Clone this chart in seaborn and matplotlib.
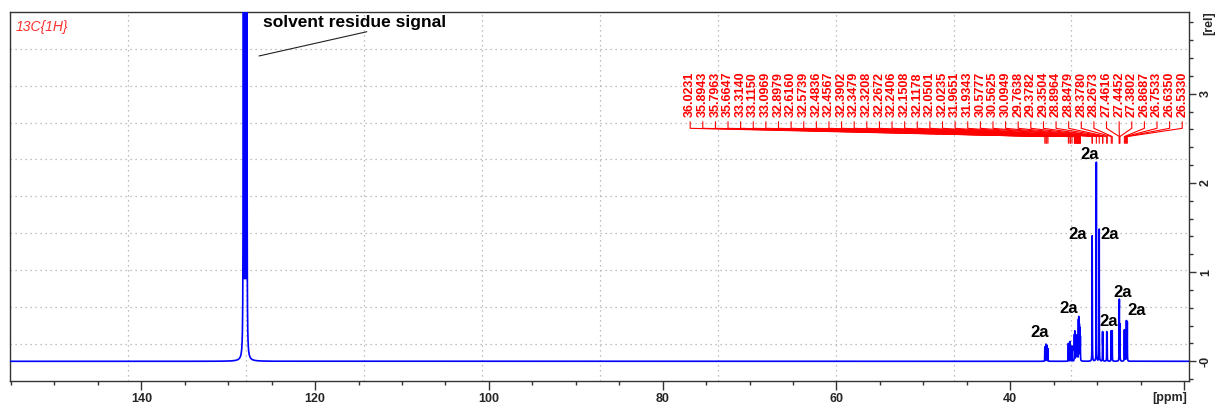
import numpy as np
import matplotlib
matplotlib.use("Agg")
import matplotlib.pyplot as plt
import seaborn as sns

# --- peak list (ppm) and line heights (rel) ---
peak_ppm = [36.0231, 35.8943, 35.7963, 35.6647, 33.3140, 33.1150, 33.0969, 32.8979,
            32.6160, 32.5739, 32.4836, 32.4567, 32.3902, 32.3479, 32.3208, 32.2672,
            32.2406, 32.1508, 32.1178, 32.0501, 32.0235, 31.9651, 31.9343, 30.5777,
            30.5625, 30.0949, 29.7638, 29.3782, 29.3504, 28.8964, 28.8479, 28.3780,
            28.2673, 27.4616, 27.4452, 27.3802, 26.8687, 26.7533, 26.6350, 26.5330]
peak_height = [0.16, 0.19, 0.18, 0.14, 0.20, 0.18, 0.17, 0.17,
               0.28, 0.32, 0.20, 0.18, 0.23, 0.25, 0.18, 0.22,
               0.21, 0.42, 0.45, 0.36, 0.32, 0.27, 0.25, 1.10,
               0.95, 2.23, 1.48, 0.30, 0.28, 0.32, 0.30, 0.34,
               0.34, 0.45, 0.56, 0.40, 0.35, 0.33, 0.45, 0.44]

# C6D6 solvent triplet (off scale)
solvent_ppm = [128.25, 128.06, 127.87]
solvent_height = [40.0, 40.0, 40.0]

# assignment labels: (ppm, rel)
assign_text = ["2a"] * 8
assign_ppm = [36.60, 33.23, 32.22, 30.84, 28.54, 28.69, 27.12, 25.46]
assign_rel = [0.321, 0.594, 1.427, 2.317, 1.427, 0.444, 0.774, 0.575]

x_major = [140, 120, 100, 80, 60, 40, 20]
x_major_labels = ["140", "120", "100", "80", "60", "40", ""]
y_major = [0, 1, 2, 3]
y_major_labels = ["-0", "1", "2", "3"]

# --- spectrum trace built from the line list (Lorentzian lines) ---
half_width = 0.01
all_ppm = np.array(peak_ppm + solvent_ppm)
all_h = np.array(peak_height + solvent_height)
ppm_axis = np.union1d(np.arange(19.0, 155.6, 0.002), all_ppm)
intensity = np.zeros_like(ppm_axis)
for p, h in zip(all_ppm, all_h):
    intensity += h / (1.0 + ((ppm_axis - p) / half_width) ** 2)

sns.set_style("white")
plt.rcParams["font.family"] = ["Liberation Sans", "DejaVu Sans"]

fig = plt.figure(figsize=(12.15, 4.07), dpi=100)
ax = fig.add_axes([0.00864, 0.0646, 0.97026, 0.9059])

x_left, x_right = 155.06, 19.39
y_bottom, y_top = -0.2175, 3.916

# dotted frame grid (10 equal divisions)
for i in range(1, 10):
    ax.plot([i / 10, i / 10], [0, 1], transform=ax.transAxes, color="#AAAAAA",
            lw=0.9, ls=(0, (1, 3)), zorder=0)
    ax.plot([0, 1], [i / 10, i / 10], transform=ax.transAxes, color="#AAAAAA",
            lw=0.9, ls=(0, (1, 3)), zorder=0)

sns.lineplot(x=ppm_axis, y=intensity, ax=ax, color="#0000FF", linewidth=1.2,
             estimator=None, sort=False, zorder=3)

ax.set_xlim(x_left, x_right)
ax.set_ylim(y_bottom, y_top)

# peak picking labels with connector fan
label_x = np.linspace(76.84, 20.21, len(peak_ppm))
for xl, xp in zip(label_x, peak_ppm):
    ax.plot([xl, xl, xp, xp], [2.686, 2.612, 2.520, 2.444], color="#FF0000",
            lw=0.8, zorder=4)
    ax.text(xl, 2.74, f"{xp:.4f}", rotation=90, ha="center", va="bottom",
            color="#FF0000", fontsize=9, fontweight="bold", zorder=5)

for t, xp, yp in zip(assign_text, assign_ppm, assign_rel):
    ax.text(xp, yp, t, ha="center", va="center", fontsize=12,
            fontweight="bold", color="black", zorder=6)

ax.text(125.97, 3.751, "solvent residue signal", ha="left", va="baseline",
        fontsize=12.5, fontweight="bold", color="black", zorder=6)
ax.plot([114.05, 126.46], [3.695, 3.423], color="#222222", lw=0.8, zorder=6)

ax.text(0.0047, 0.960, "13C{1H}", transform=ax.transAxes, ha="left", va="center",
        fontsize=10, style="italic", color="#FF3030")

# axes styling
for s in ax.spines.values():
    s.set_color("#333333")
    s.set_linewidth(1.0)
    s.set_visible(True)

ax.set_xticks(x_major)
ax.set_xticklabels(x_major_labels, fontsize=9, fontweight="bold")
ax.set_xticks(np.arange(155, 19, -5), minor=True)
ax.tick_params(axis="x", which="major", direction="out", length=6.7, width=1,
               color="#333333", pad=2, bottom=True)
ax.tick_params(axis="x", which="minor", direction="out", length=3.1, width=1,
               color="#333333", bottom=True)
ax.text(0.998, -0.047, "[ppm]", transform=ax.transAxes, ha="right", va="center",
        fontsize=9, fontweight="bold")

ax.yaxis.tick_right()
ax.set_yticks(y_major)
ax.set_yticklabels(y_major_labels, fontsize=9, fontweight="bold", rotation=90,
                   va="center")
ax.set_yticks(np.arange(-0.2, 3.9, 0.2), minor=True)
ax.tick_params(axis="y", which="major", direction="out", length=5, width=1,
               color="#333333", pad=2.5, right=True, left=False)
ax.tick_params(axis="y", which="minor", direction="out", length=3.2, width=1,
               color="#333333", right=True, left=False)
ax.text(1.0165, 0.970, "[rel]", transform=ax.transAxes, ha="center", va="center",
        rotation=90, fontsize=9, fontweight="bold")

ax.set_xlabel("")
ax.set_ylabel("")
ax.grid(False)

fig.savefig("out.png", dpi=100)
